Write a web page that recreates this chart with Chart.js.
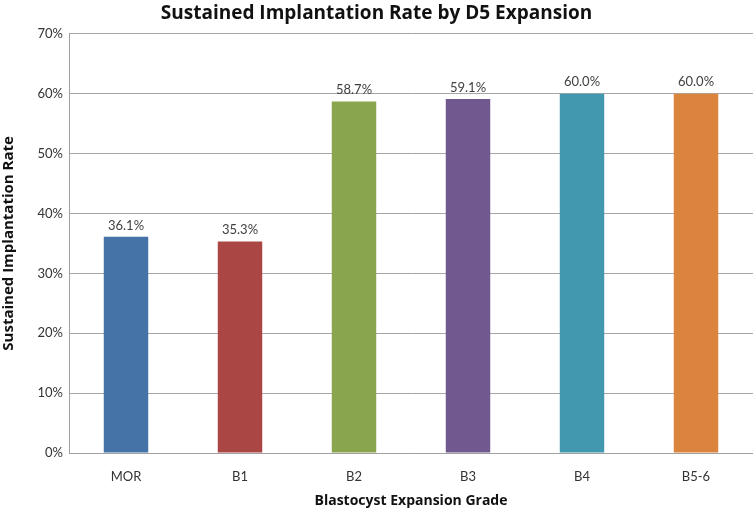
<!DOCTYPE html>
<html lang="en">
<head>
<meta charset="UTF-8">
<title>Sustained Implantation Rate</title>
<script src="https://cdn.jsdelivr.net/npm/chart.js"></script>
<style>
  body { margin: 0; background: #fff; }
  #grafico { display: block; }
</style>
</head>
<body>
<canvas id="grafico" width="753" height="513"></canvas>
<script>
  // dados
  const grades = ['MOR', 'B1', 'B2', 'B3', 'B4', 'B5-6'];
  const rates = [36.1, 35.3, 58.7, 59.1, 60.0, 60.0];
  const barColors = ['#4572A7', '#AA4643', '#89A54E', '#71588F', '#4198AF', '#DB843D'];

  const fonte = "Lato, 'Open Sans', sans-serif";
  const fonteTitulo = "'Open Sans', Lato, sans-serif";

  // rótulos em cima das barras
  const rotulos = {
    id: 'rotulos',
    afterDatasetsDraw(chart) {
      const ctx = chart.ctx;
      const meta = chart.getDatasetMeta(0);
      ctx.save();
      ctx.font = '13px ' + fonte;
      ctx.fillStyle = '#404040';
      ctx.textAlign = 'center';
      ctx.textBaseline = 'bottom';
      meta.data.forEach((bar, i) => {
        ctx.fillText(rates[i].toFixed(1) + '%', bar.x, bar.y - 5);
      });
      ctx.restore();
    }
  };

  new Chart(document.getElementById('grafico'), {
    type: 'bar',
    data: {
      labels: grades,
      datasets: [{
        data: rates,
        backgroundColor: barColors,
        borderWidth: 0,
        barPercentage: 0.39,
        categoryPercentage: 1
      }]
    },
    options: {
      responsive: false,
      animation: false,
      layout: { padding: 0 },
      plugins: {
        legend: { display: false },
        tooltip: { enabled: false },
        title: {
          display: true,
          text: 'Sustained Implantation Rate by D5 Expansion',
          color: '#111',
          font: { size: 19, weight: 'bold', family: fonteTitulo },
          padding: { top: 2, bottom: 9 }
        }
      },
      scales: {
        x: {
          grid: { display: false },
          border: { color: '#a0a0a0', width: 1 },
          ticks: { color: '#333', font: { size: 13, family: fonte }, padding: 8 },
          title: { display: true, text: 'Blastocyst Expansion Grade', color: '#111',
                   font: { size: 14, weight: 'bold', family: fonteTitulo }, padding: { top: 6 } },
          afterFit(scale) { scale.height = 60; }
        },
        y: {
          min: 0,
          max: 70,
          ticks: {
            stepSize: 10,
            color: '#333',
            font: { size: 13, family: fonte },
            padding: 6,
            callback: v => v + '%'
          },
          grid: { color: '#a6a6a6', drawTicks: false },
          border: { color: '#a0a0a0', width: 1 },
          title: { display: true, text: 'Sustained Implantation Rate', color: '#111',
                   font: { size: 15, weight: 'bold', family: fonteTitulo }, padding: 0 },
          afterFit(scale) { scale.width = 69; }
        }
      }
    },
    plugins: [rotulos]
  });
</script>
</body>
</html>
